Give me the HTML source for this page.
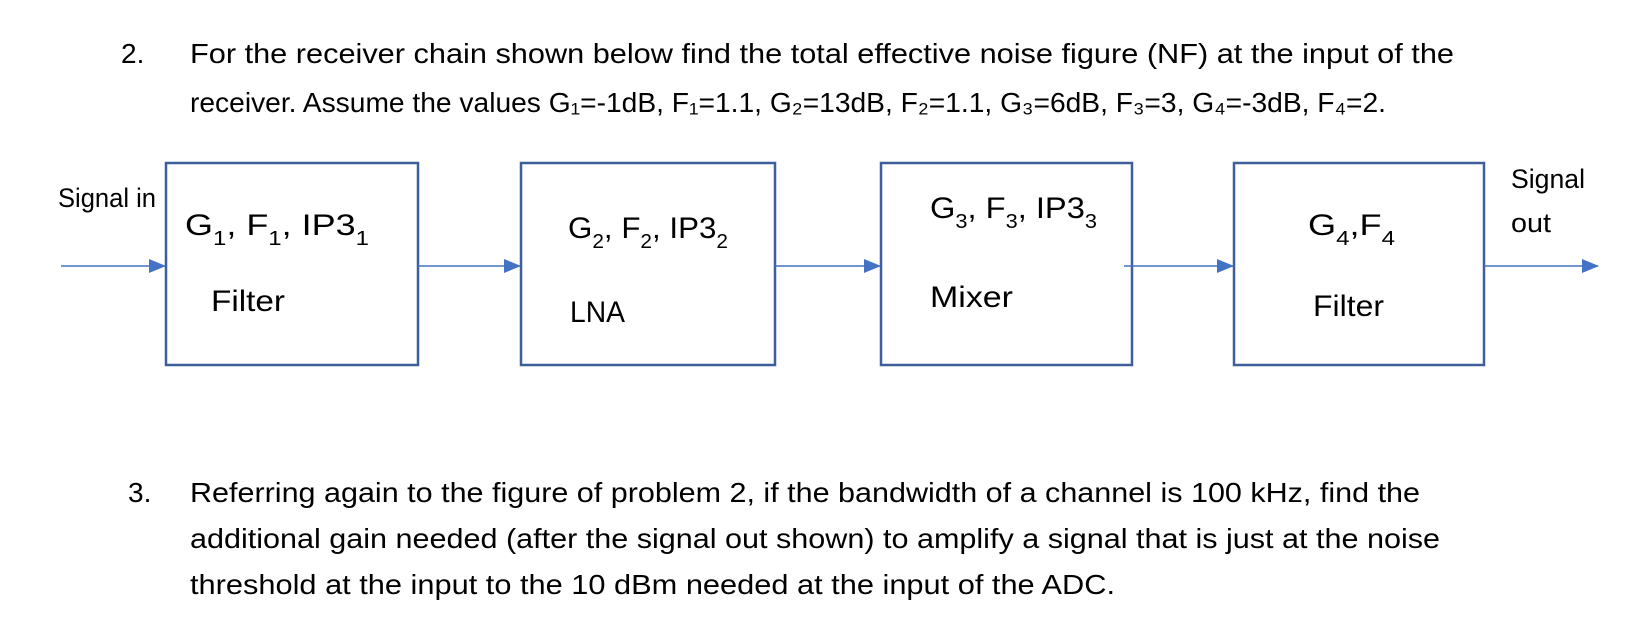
<!DOCTYPE html>
<html><head><meta charset="utf-8"><style>
html,body{margin:0;padding:0;background:#fff;}
svg{display:block;}
text{font-family:"Liberation Sans",sans-serif;fill:#000;}
</style></head><body>
<svg width="1652" height="624" viewBox="0 0 1652 624" xmlns="http://www.w3.org/2000/svg">
<defs><marker id="a" markerWidth="18" markerHeight="16" refX="16" refY="7" orient="auto" markerUnits="userSpaceOnUse"><path d="M0,0 L17,7 L0,14 z" fill="#4472C4"/></marker></defs>
<g font-size="28">
<text x="121" y="63">2.</text>
<text x="190" y="63" textLength="1264" lengthAdjust="spacingAndGlyphs">For the receiver chain shown below find the total effective noise figure (NF) at the input of the</text>
<text x="190" y="112" textLength="1196" lengthAdjust="spacingAndGlyphs">receiver.  Assume the values G₁=-1dB, F₁=1.1, G₂=13dB, F₂=1.1, G₃=6dB, F₃=3, G₄=-3dB, F₄=2.</text>
<text x="128" y="502">3.</text>
<text x="190" y="502" textLength="1230" lengthAdjust="spacingAndGlyphs">Referring again to the figure of problem 2, if the bandwidth of a channel is 100 kHz, find the</text>
<text x="190" y="548" textLength="1250" lengthAdjust="spacingAndGlyphs">additional gain needed (after the signal out shown) to amplify a signal that is just at the noise</text>
<text x="190" y="594" textLength="925" lengthAdjust="spacingAndGlyphs">threshold at the input to the 10 dBm needed at the input of the ADC.</text>
</g>
<g fill="none" stroke="#3F5E9C" stroke-width="2.5">
<rect x="166" y="163" width="252" height="202"/>
<rect x="521" y="163" width="254" height="202"/>
<rect x="881" y="163" width="251" height="202"/>
<rect x="1234" y="163" width="250" height="202"/>
</g>
<g stroke="#4472C4" stroke-width="1.5">
<line x1="61" y1="266" x2="165" y2="266" marker-end="url(#a)"/>
<line x1="418" y1="266" x2="520" y2="266" marker-end="url(#a)"/>
<line x1="775" y1="266" x2="880" y2="266" marker-end="url(#a)"/>
<line x1="1124" y1="266" x2="1233" y2="266" marker-end="url(#a)"/>
<line x1="1484" y1="266" x2="1598" y2="266" marker-end="url(#a)"/>
</g>
<g font-size="27">
<text x="58" y="207" textLength="98" lengthAdjust="spacingAndGlyphs">Signal in</text>
<text x="1511" y="188" textLength="74" lengthAdjust="spacingAndGlyphs">Signal</text>
<text x="1511" y="232" textLength="40" lengthAdjust="spacingAndGlyphs">out</text>
</g>
<g font-size="30">
<text x="185" y="235" textLength="184" lengthAdjust="spacingAndGlyphs">G<tspan font-size="20" dy="10">1</tspan><tspan dy="-10">, F</tspan><tspan font-size="20" dy="10">1</tspan><tspan dy="-10">, IP3</tspan><tspan font-size="20" dy="10">1</tspan></text>
<text x="211" y="311" textLength="74" lengthAdjust="spacingAndGlyphs">Filter</text>
<text x="568" y="238" textLength="160" lengthAdjust="spacingAndGlyphs">G<tspan font-size="20" dy="10">2</tspan><tspan dy="-10">, F</tspan><tspan font-size="20" dy="10">2</tspan><tspan dy="-10">, IP3</tspan><tspan font-size="20" dy="10">2</tspan></text>
<text x="570" y="322" textLength="55" lengthAdjust="spacingAndGlyphs">LNA</text>
<text x="930" y="218" textLength="167" lengthAdjust="spacingAndGlyphs">G<tspan font-size="20" dy="10">3</tspan><tspan dy="-10">, F</tspan><tspan font-size="20" dy="10">3</tspan><tspan dy="-10">, IP3</tspan><tspan font-size="20" dy="10">3</tspan></text>
<text x="930" y="307" textLength="83" lengthAdjust="spacingAndGlyphs">Mixer</text>
<text x="1308" y="235" textLength="87" lengthAdjust="spacingAndGlyphs">G<tspan font-size="20" dy="10">4</tspan><tspan dy="-10">,F</tspan><tspan font-size="20" dy="10">4</tspan></text>
<text x="1313" y="316" textLength="71" lengthAdjust="spacingAndGlyphs">Filter</text>
</g>
</svg>
</body></html>
